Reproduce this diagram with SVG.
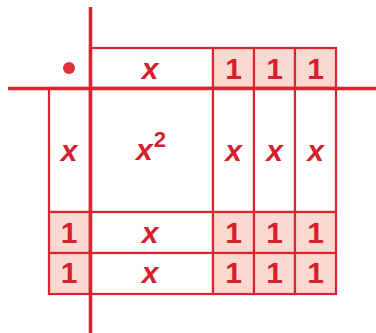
<svg xmlns="http://www.w3.org/2000/svg" width="376" height="333" viewBox="0 0 376 333">
<style>
.c{fill:#ffffff;stroke:#d9252f;stroke-width:2.2}
.p{fill:#fcd9d0;stroke:#d9252f;stroke-width:2.2}
.ax{stroke:#d9252f;stroke-width:3.5;fill:none}
.t{font-family:"Liberation Sans",Arial,sans-serif;font-size:30px;font-weight:bold;fill:#d6202e;text-anchor:middle}
.i{font-style:italic}
</style>
<rect width="376" height="333" fill="#ffffff"/>
<g id="top-x"><rect class="c" x="90" y="48" width="123" height="40"/><text class="t i" x="150" y="79">x</text></g>
<g id="top-1a"><rect class="p" x="213" y="48" width="41" height="40"/><text class="t" x="233.5" y="79">1</text></g>
<g id="top-1b"><rect class="p" x="254" y="48" width="41" height="40"/><text class="t" x="274.5" y="79">1</text></g>
<g id="top-1c"><rect class="p" x="295" y="48" width="41" height="40"/><text class="t" x="315.5" y="79">1</text></g>
<g id="left-x"><rect class="c" x="49" y="88" width="41" height="124"/><text class="t i" x="69" y="161">x</text></g>
<g id="x2"><rect class="c" x="90" y="88" width="123" height="124"/><text class="t i" x="151" y="160">x<tspan font-style="normal" font-size="22" dx="1" dy="-13">2</tspan></text></g>
<g id="col-x1"><rect class="c" x="213" y="88" width="41" height="124"/><text class="t i" x="233.5" y="161">x</text></g>
<g id="col-x2"><rect class="c" x="254" y="88" width="41" height="124"/><text class="t i" x="274.5" y="161">x</text></g>
<g id="col-x3"><rect class="c" x="295" y="88" width="41" height="124"/><text class="t i" x="315.5" y="161">x</text></g>
<g id="r1-1"><rect class="p" x="49" y="212" width="41" height="41"/><text class="t" x="69" y="243">1</text></g>
<g id="r1-x"><rect class="c" x="90" y="212" width="123" height="41"/><text class="t i" x="150" y="243">x</text></g>
<g id="r1-1a"><rect class="p" x="213" y="212" width="41" height="41"/><text class="t" x="233.5" y="243">1</text></g>
<g id="r1-1b"><rect class="p" x="254" y="212" width="41" height="41"/><text class="t" x="274.5" y="243">1</text></g>
<g id="r1-1c"><rect class="p" x="295" y="212" width="41" height="41"/><text class="t" x="315.5" y="243">1</text></g>
<g id="r2-1"><rect class="p" x="49" y="253" width="41" height="41"/><text class="t" x="69" y="283">1</text></g>
<g id="r2-x"><rect class="c" x="90" y="253" width="123" height="41"/><text class="t i" x="150" y="283">x</text></g>
<g id="r2-1a"><rect class="p" x="213" y="253" width="41" height="41"/><text class="t" x="233.5" y="283">1</text></g>
<g id="r2-1b"><rect class="p" x="254" y="253" width="41" height="41"/><text class="t" x="274.5" y="283">1</text></g>
<g id="r2-1c"><rect class="p" x="295" y="253" width="41" height="41"/><text class="t" x="315.5" y="283">1</text></g>
<g id="dot"><circle cx="69" cy="68" r="6" fill="#e0303a"/></g>
<g id="connectors">
<line class="ax" x1="90.5" y1="7" x2="90.5" y2="333"/>
<line class="ax" x1="8" y1="88.5" x2="376" y2="88.5"/>
</g>
</svg>
